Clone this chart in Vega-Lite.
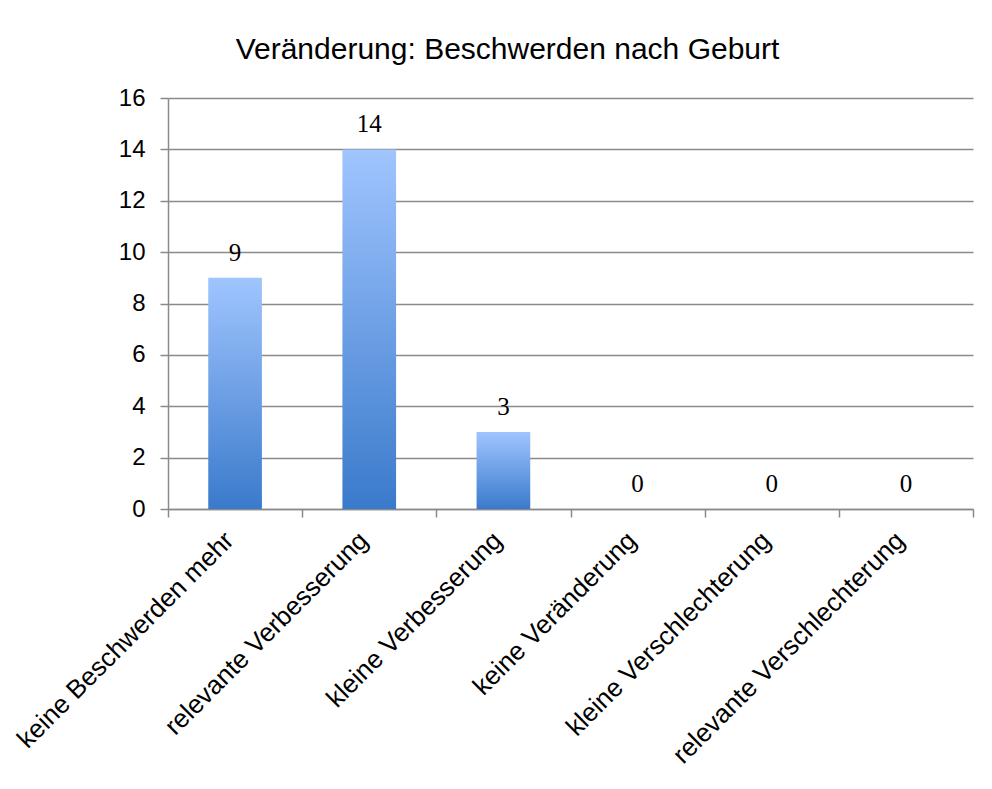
{
  "$schema": "https://vega.github.io/schema/vega-lite/v6.json",
  "width": 805,
  "height": 411,
  "autosize": {"type": "none"},
  "padding": {"left": 168, "top": 98, "right": 19, "bottom": 280},
  "background": "white",
  "title": {
    "text": "Veränderung: Beschwerden nach Geburt",
    "font": "Liberation Sans",
    "fontSize": 30,
    "fontWeight": "normal",
    "color": "black",
    "anchor": "middle",
    "dx": -63,
    "offset": -3,
    "baseline": "alphabetic"
  },
  "data": {
    "values": [
      {"kategorie": "keine Beschwerden mehr", "anzahl": 9},
      {"kategorie": "relevante Verbesserung", "anzahl": 14},
      {"kategorie": "kleine Verbesserung", "anzahl": 3},
      {"kategorie": "keine Veränderung", "anzahl": 0},
      {"kategorie": "kleine Verschlechterung", "anzahl": 0},
      {"kategorie": "relevante Verschlechterung", "anzahl": 0}
    ]
  },
  "encoding": {
    "x": {
      "field": "kategorie",
      "type": "nominal",
      "sort": null,
      "scale": {"paddingInner": 0, "paddingOuter": 0},
      "axis": {
        "title": null,
        "domainColor": "#8a8a8a",
        "domainWidth": 1.5,
        "tickColor": "#8a8a8a",
        "tickWidth": 1.5,
        "tickSize": 8,
        "tickBand": "extent",
        "labelAngle": -45,
        "labelAlign": "right",
        "labelBaseline": "middle",
        "labelPadding": 19,
        "labelOffset": -6,
        "labelFont": "Liberation Sans",
        "labelFontSize": 26,
        "labelColor": "black",
        "labelLimit": 500,
        "labelOverlap": false,
        "grid": false
      }
    },
    "y": {
      "field": "anzahl",
      "type": "quantitative",
      "scale": {"domain": [0, 16], "nice": false},
      "axis": {
        "title": null,
        "values": [0, 2, 4, 6, 8, 10, 12, 14, 16],
        "grid": true,
        "gridColor": "#8a8a8a",
        "gridWidth": 1.5,
        "domainColor": "#8a8a8a",
        "domainWidth": 1.5,
        "tickColor": "#8a8a8a",
        "tickWidth": 1.5,
        "tickSize": 8,
        "labelPadding": 15,
        "labelFont": "Liberation Sans",
        "labelFontSize": 24,
        "labelColor": "black"
      }
    }
  },
  "layer": [
    {
      "mark": {
        "type": "bar",
        "width": {"band": 0.4},
        "color": {
          "gradient": "linear",
          "x1": 0, "y1": 0, "x2": 0, "y2": 1,
          "stops": [
            {"offset": 0, "color": "#A0C5FF"},
            {"offset": 1, "color": "#3A7ACB"}
          ]
        }
      }
    },
    {
      "mark": {
        "type": "text",
        "font": "Liberation Serif",
        "fontSize": 25,
        "baseline": "alphabetic",
        "align": "center",
        "dy": -17,
        "color": "black"
      },
      "encoding": {"text": {"field": "anzahl", "type": "quantitative"}}
    }
  ],
  "config": {"view": {"stroke": null}}
}
